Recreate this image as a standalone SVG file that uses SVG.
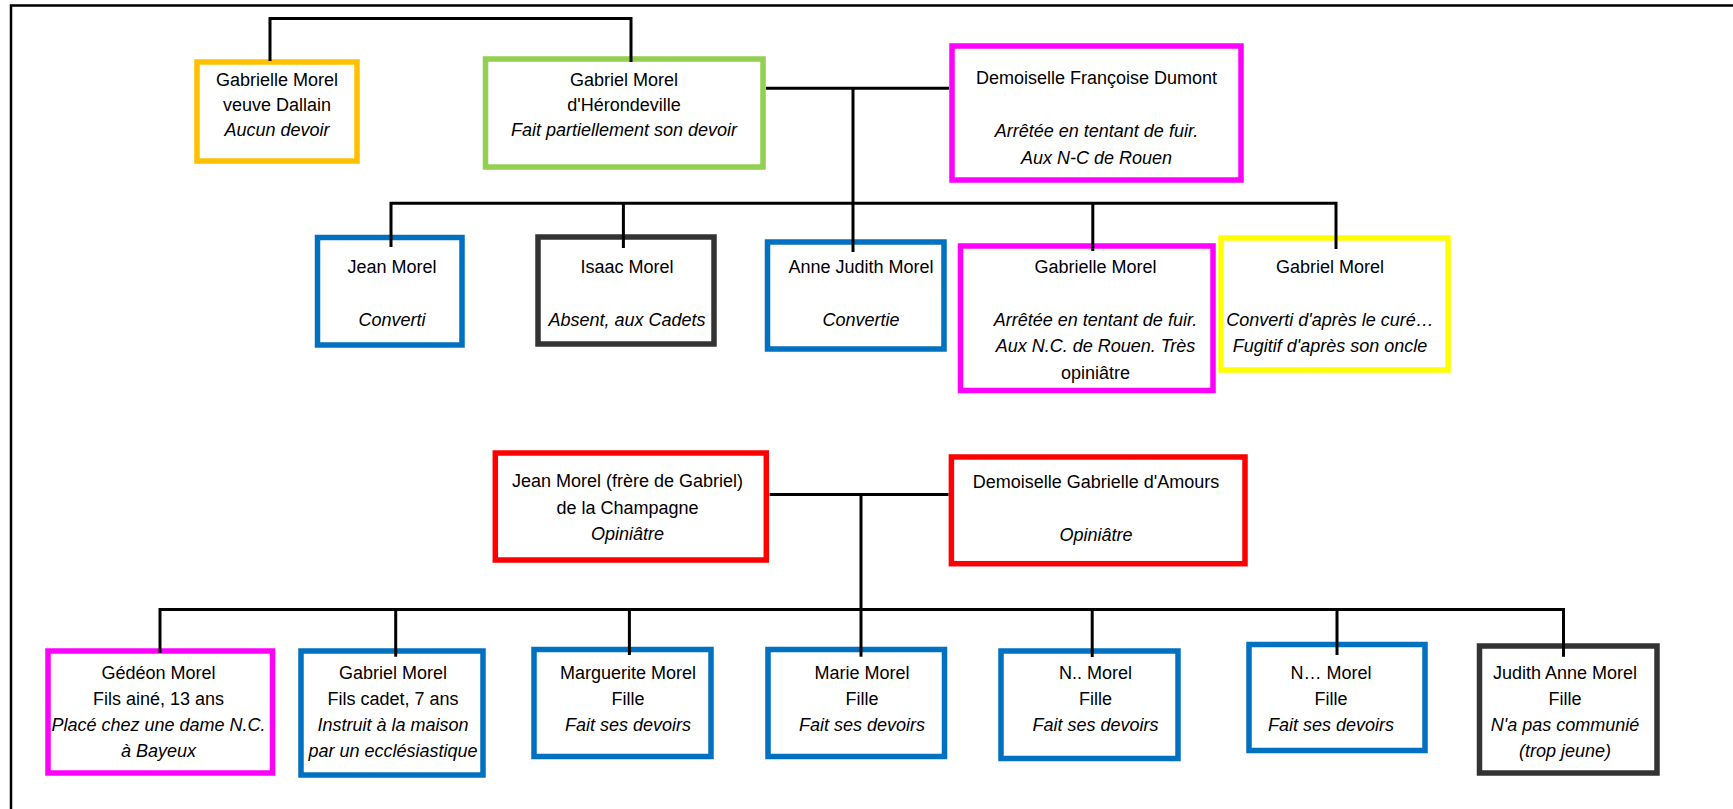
<svg xmlns="http://www.w3.org/2000/svg" width="1733" height="809" viewBox="0 0 1733 809">
<style>
  .box { fill:#ffffff; stroke-width:5.5; }
  .orange { stroke:#FFC000; }
  .green { stroke:#92D050; }
  .magenta { stroke:#FF00FF; }
  .blue { stroke:#0070C0; }
  .dark { stroke:#333333; }
  .yellow { stroke:#FFFF00; }
  .red { stroke:#FF0000; }
  text { font-family:"Liberation Sans", Arial, sans-serif; font-size:18px; text-anchor:middle; fill:#000000; }
  .i { font-style:italic; }
  .c { fill:none; stroke:#000000; stroke-width:3; }
  .frame { fill:none; stroke:#000000; stroke-width:2.5; }
</style>
<rect x="0" y="0" width="1733" height="809" fill="#ffffff"/>
<path class="frame" d="M11,809 V5.5 H1733"/>

<g id="node-gabrielle-dallain">
  <rect class="box orange" x="197" y="62" width="160" height="99"/>
  <text x="277" y="85.5">Gabrielle Morel</text>
  <text x="277" y="110.5">veuve Dallain</text>
  <text x="277" y="135.5" class="i">Aucun devoir</text>
</g>
<g id="node-gabriel-herondeville">
  <rect class="box green" x="485.5" y="59" width="277.5" height="108"/>
  <text x="624" y="85.5">Gabriel Morel</text>
  <text x="624" y="110.5">d'Hérondeville</text>
  <text x="624" y="135.5" class="i">Fait partiellement son devoir</text>
</g>
<g id="node-francoise-dumont">
  <rect class="box magenta" x="952" y="46" width="289" height="134"/>
  <text x="1096.5" y="84">Demoiselle Françoise Dumont</text>
  <text x="1096.5" y="137" class="i">Arrêtée en tentant de fuir.</text>
  <text x="1096.5" y="163.5" class="i">Aux N-C de Rouen</text>
</g>

<g id="node-jean">
  <rect class="box blue" x="317.5" y="237.5" width="144.5" height="107.5"/>
  <text x="392" y="272.5">Jean Morel</text>
  <text x="392" y="325.5" class="i">Converti</text>
</g>
<g id="node-isaac">
  <rect class="box dark" x="538" y="237" width="176" height="107"/>
  <text x="627" y="272.5">Isaac Morel</text>
  <text x="627" y="325.5" class="i">Absent, aux Cadets</text>
</g>
<g id="node-anne-judith">
  <rect class="box blue" x="767.5" y="242" width="176.5" height="107"/>
  <text x="861" y="272.5">Anne Judith Morel</text>
  <text x="861" y="325.5" class="i">Convertie</text>
</g>
<g id="node-gabrielle">
  <rect class="box magenta" x="960.5" y="246" width="252.5" height="144.5"/>
  <text x="1095.5" y="272.5">Gabrielle Morel</text>
  <text x="1095.5" y="325.5" class="i">Arrêtée en tentant de fuir.</text>
  <text x="1095.5" y="352" class="i">Aux N.C. de Rouen. Très</text>
  <text x="1095.5" y="378.5">opiniâtre</text>
</g>
<g id="node-gabriel">
  <rect class="box yellow" x="1221" y="238" width="227" height="132"/>
  <text x="1330" y="272.5">Gabriel Morel</text>
  <text x="1330" y="325.5" class="i">Converti d'après le curé…</text>
  <text x="1330" y="352" class="i">Fugitif d'après son oncle</text>
</g>

<g id="node-jean-champagne">
  <rect class="box red" x="495.3" y="453" width="271" height="107"/>
  <text x="627.5" y="487">Jean Morel (frère de Gabriel)</text>
  <text x="627.5" y="513.5">de la Champagne</text>
  <text x="627.5" y="540" class="i">Opiniâtre</text>
</g>
<g id="node-gabrielle-amours">
  <rect class="box red" x="951.4" y="457" width="293.6" height="106.7"/>
  <text x="1096" y="488">Demoiselle Gabrielle d'Amours</text>
  <text x="1096" y="541" class="i">Opiniâtre</text>
</g>

<g id="node-gedeon">
  <rect class="box magenta" x="48" y="651" width="224.5" height="122"/>
  <text x="158.5" y="679">Gédéon Morel</text>
  <text x="158.5" y="705">Fils ainé, 13 ans</text>
  <text x="158.5" y="731" class="i">Placé chez une dame N.C.</text>
  <text x="158.5" y="756.5" class="i">à Bayeux</text>
</g>
<g id="node-gabriel-cadet">
  <rect class="box blue" x="301" y="651" width="182" height="124"/>
  <text x="393" y="679">Gabriel Morel</text>
  <text x="393" y="705">Fils cadet, 7 ans</text>
  <text x="393" y="731" class="i">Instruit à la maison</text>
  <text x="393" y="756.5" class="i">par un ecclésiastique</text>
</g>
<g id="node-marguerite">
  <rect class="box blue" x="534" y="649.5" width="177" height="107"/>
  <text x="628" y="679">Marguerite Morel</text>
  <text x="628" y="705">Fille</text>
  <text x="628" y="731" class="i">Fait ses devoirs</text>
</g>
<g id="node-marie">
  <rect class="box blue" x="768" y="649.5" width="176.5" height="107"/>
  <text x="862" y="679">Marie Morel</text>
  <text x="862" y="705">Fille</text>
  <text x="862" y="731" class="i">Fait ses devoirs</text>
</g>
<g id="node-n2">
  <rect class="box blue" x="1001" y="651" width="177" height="107.5"/>
  <text x="1095.5" y="679">N.. Morel</text>
  <text x="1095.5" y="705">Fille</text>
  <text x="1095.5" y="731" class="i">Fait ses devoirs</text>
</g>
<g id="node-n3">
  <rect class="box blue" x="1249" y="644.5" width="176" height="106"/>
  <text x="1331" y="679">N… Morel</text>
  <text x="1331" y="705">Fille</text>
  <text x="1331" y="731" class="i">Fait ses devoirs</text>
</g>
<g id="node-judith-anne">
  <rect class="box dark" x="1479.5" y="646" width="177.5" height="127"/>
  <text x="1565" y="679">Judith Anne Morel</text>
  <text x="1565" y="705">Fille</text>
  <text x="1565" y="731" class="i">N'a pas communié</text>
  <text x="1565" y="756.5" class="i">(trop jeune)</text>
</g>

<g id="connectors">
  <path class="c" d="M270,61 V18.5 H631 V62"/>
  <path class="c" d="M766,88.3 H949"/>
  <path class="c" d="M853,88.3 V252"/>
  <path class="c" d="M391,247 V203.3 H1336 V249"/>
  <path class="c" d="M623.4,203.3 V248"/>
  <path class="c" d="M1092.8,203.3 V251"/>
  <path class="c" d="M769.5,494.5 H948.5"/>
  <path class="c" d="M861,494.5 V656.7"/>
  <path class="c" d="M160,653 V609.5 H1563.5 V656.7"/>
  <path class="c" d="M395.7,609.5 V656.7"/>
  <path class="c" d="M629.4,609.5 V655"/>
  <path class="c" d="M1092.2,609.5 V657"/>
  <path class="c" d="M1337,609.5 V655"/>
</g>
</svg>
